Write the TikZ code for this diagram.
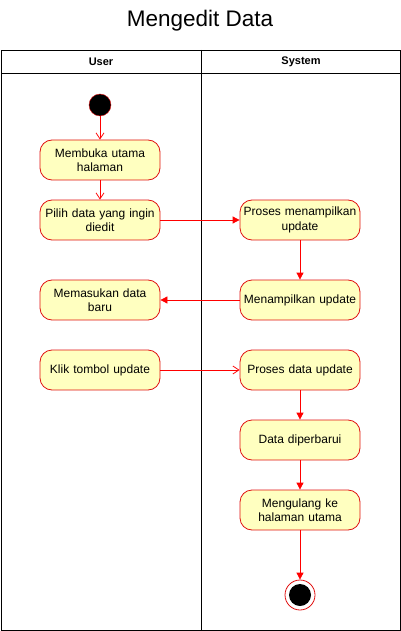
\documentclass[tikz,border=0pt]{standalone}
\usepackage{fontspec}
\setmainfont{Liberation Sans}
\usetikzlibrary{arrows.meta}
\definecolor{actfill}{HTML}{FFFFC0}
\definecolor{actline}{HTML}{E01010}
\definecolor{flow}{HTML}{FF0000}
\begin{document}
\begin{tikzpicture}[x=1pt,y=-1pt,
  act/.style={draw=actline,fill=actfill,rounded corners=12pt,minimum width=120pt,minimum height=40pt,text width=118pt,align=center,font=\fontsize{12}{14.5}\selectfont,inner sep=1pt,line width=0.8pt},
  filled/.style={draw=flow,line width=0.8pt,-{Triangle[width=7pt,length=7pt]}},
  open/.style={draw=flow,line width=0.8pt,-{Straight Barb[width=8pt,length=6pt,line width=0.8pt]}},
  hdr/.style={font=\bfseries\fontsize{11}{13}\selectfont}]
\useasboundingbox (0,0) rectangle (401,631);
\node[font=\fontsize{22.5}{27}\selectfont] (title) at (200,21) {Mengedit Data};
\draw[line width=0.9pt] (1,50) rectangle (400,630);
\draw[line width=0.9pt] (1,73) -- (400,73);
\draw[line width=0.9pt] (201,50) -- (201,630);
\node[hdr] (huser) at (101,62) {User};
\node[hdr] (hsys) at (301,62) {System};

\node[circle,fill=black,draw=actline,minimum size=22pt,inner sep=0pt] (start) at (100,105) {};
\node[act] (b1) at (100,160) {Membuka utama\\halaman};
\node[act] (b2) at (100,220) {Pilih data yang ingin\\diedit};
\node[act] (b3) at (300,220) {Proses menampilkan\\update};
\node[act] (b4) at (300,300) {Menampilkan update};
\node[act] (b5) at (100,300) {Memasukan data\\baru};
\node[act] (b6) at (100,370) {Klik tombol update};
\node[act] (b7) at (300,370) {Proses data update};
\node[act] (b8) at (300,440) {Data diperbarui};
\node[act] (b9) at (300,510) {Mengulang ke\\halaman utama};
\node[circle,draw=actline,fill=white,minimum size=30pt,inner sep=0pt,line width=0.8pt] (end) at (300,595) {};
\node[circle,fill=black,minimum size=22pt,inner sep=0pt] (endin) at (end) {};

\draw[open] (start) -- (b1);
\draw[open] (b1) -- (b2);
\draw[filled] (b2) -- (b3);
\draw[filled] (b3) -- (b4);
\draw[filled] (b4) -- (b5);
\draw[open] (b6) -- (b7);
\draw[filled] (b7) -- (b8);
\draw[filled] (b8) -- (b9);
\draw[filled] (b9) -- (end);
\end{tikzpicture}
\end{document}
